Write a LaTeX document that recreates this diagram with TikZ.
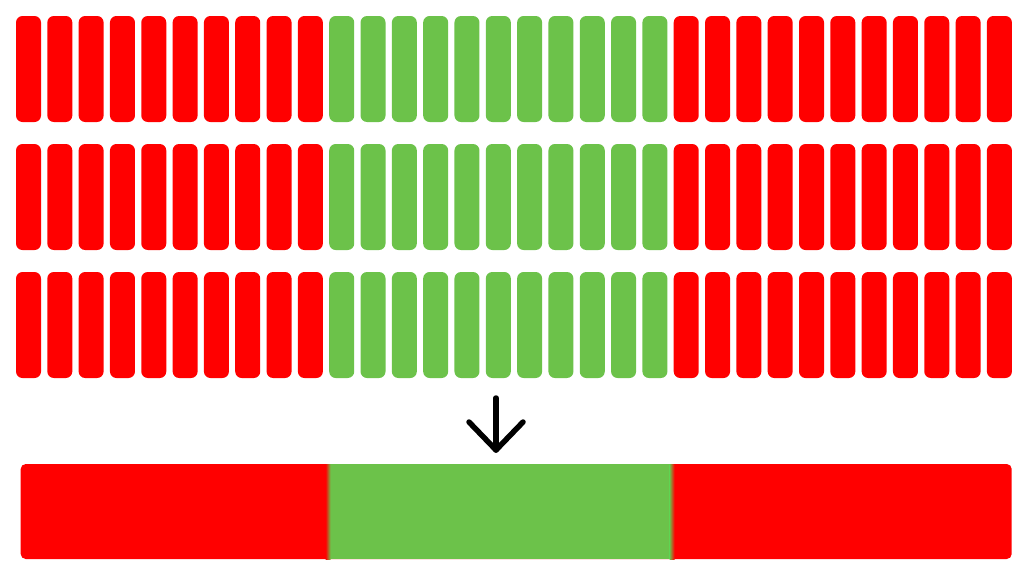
\documentclass[tikz,border=0pt]{standalone}
\usetikzlibrary{calc}
\definecolor{barRed}{HTML}{FF0000}
\definecolor{barGreen}{HTML}{6CC24A}
\begin{document}
\begin{tikzpicture}[x=1pt,y=-1pt,line cap=round,line join=round]
\path[fill=white] (0,0) rectangle (1024,576);
\tikzset{bar/.style={rounded corners=6.5pt,minimum width=25pt,minimum height=106pt,inner sep=0pt,outer sep=0pt,anchor=north west},arrowline/.style={draw=black,line width=5.5pt}}
% three rows of 32 bars: red, green middle, red
\foreach \r in {0,1,2} {
  \foreach \i in {0,...,31} {
    \pgfmathsetmacro{\bx}{16+31.32*\i}
    \ifnum\i<10 \def\bc{barRed}\else\ifnum\i>20 \def\bc{barRed}\else\def\bc{barGreen}\fi\fi
    \node[bar,fill=\bc] (bar-\r-\i) at (\bx,16+128*\r) {};
  }
}
\coordinate (arrowtop) at (496,398); \coordinate (arrowtip) at (496,450);
\draw[arrowline] (arrowtop) -- (arrowtip);
\draw[arrowline] ($(arrowtip)+(-27,-28)$) -- (arrowtip) -- ($(arrowtip)+(27,-28)$);
% merged strip
\node[fill=barRed,rounded corners=5pt,minimum width=991pt,minimum height=95pt,inner sep=0pt,outer sep=0pt,anchor=north west] (strip) at (20.7,464) {};
\fill[barGreen] (330,464) rectangle (670,559);
\shade[left color=barRed,right color=barGreen] (325.5,464) rectangle (330.5,559);
\shade[left color=barGreen,right color=barRed] (669.5,464) rectangle (674.5,559);
\end{tikzpicture}
\end{document}
